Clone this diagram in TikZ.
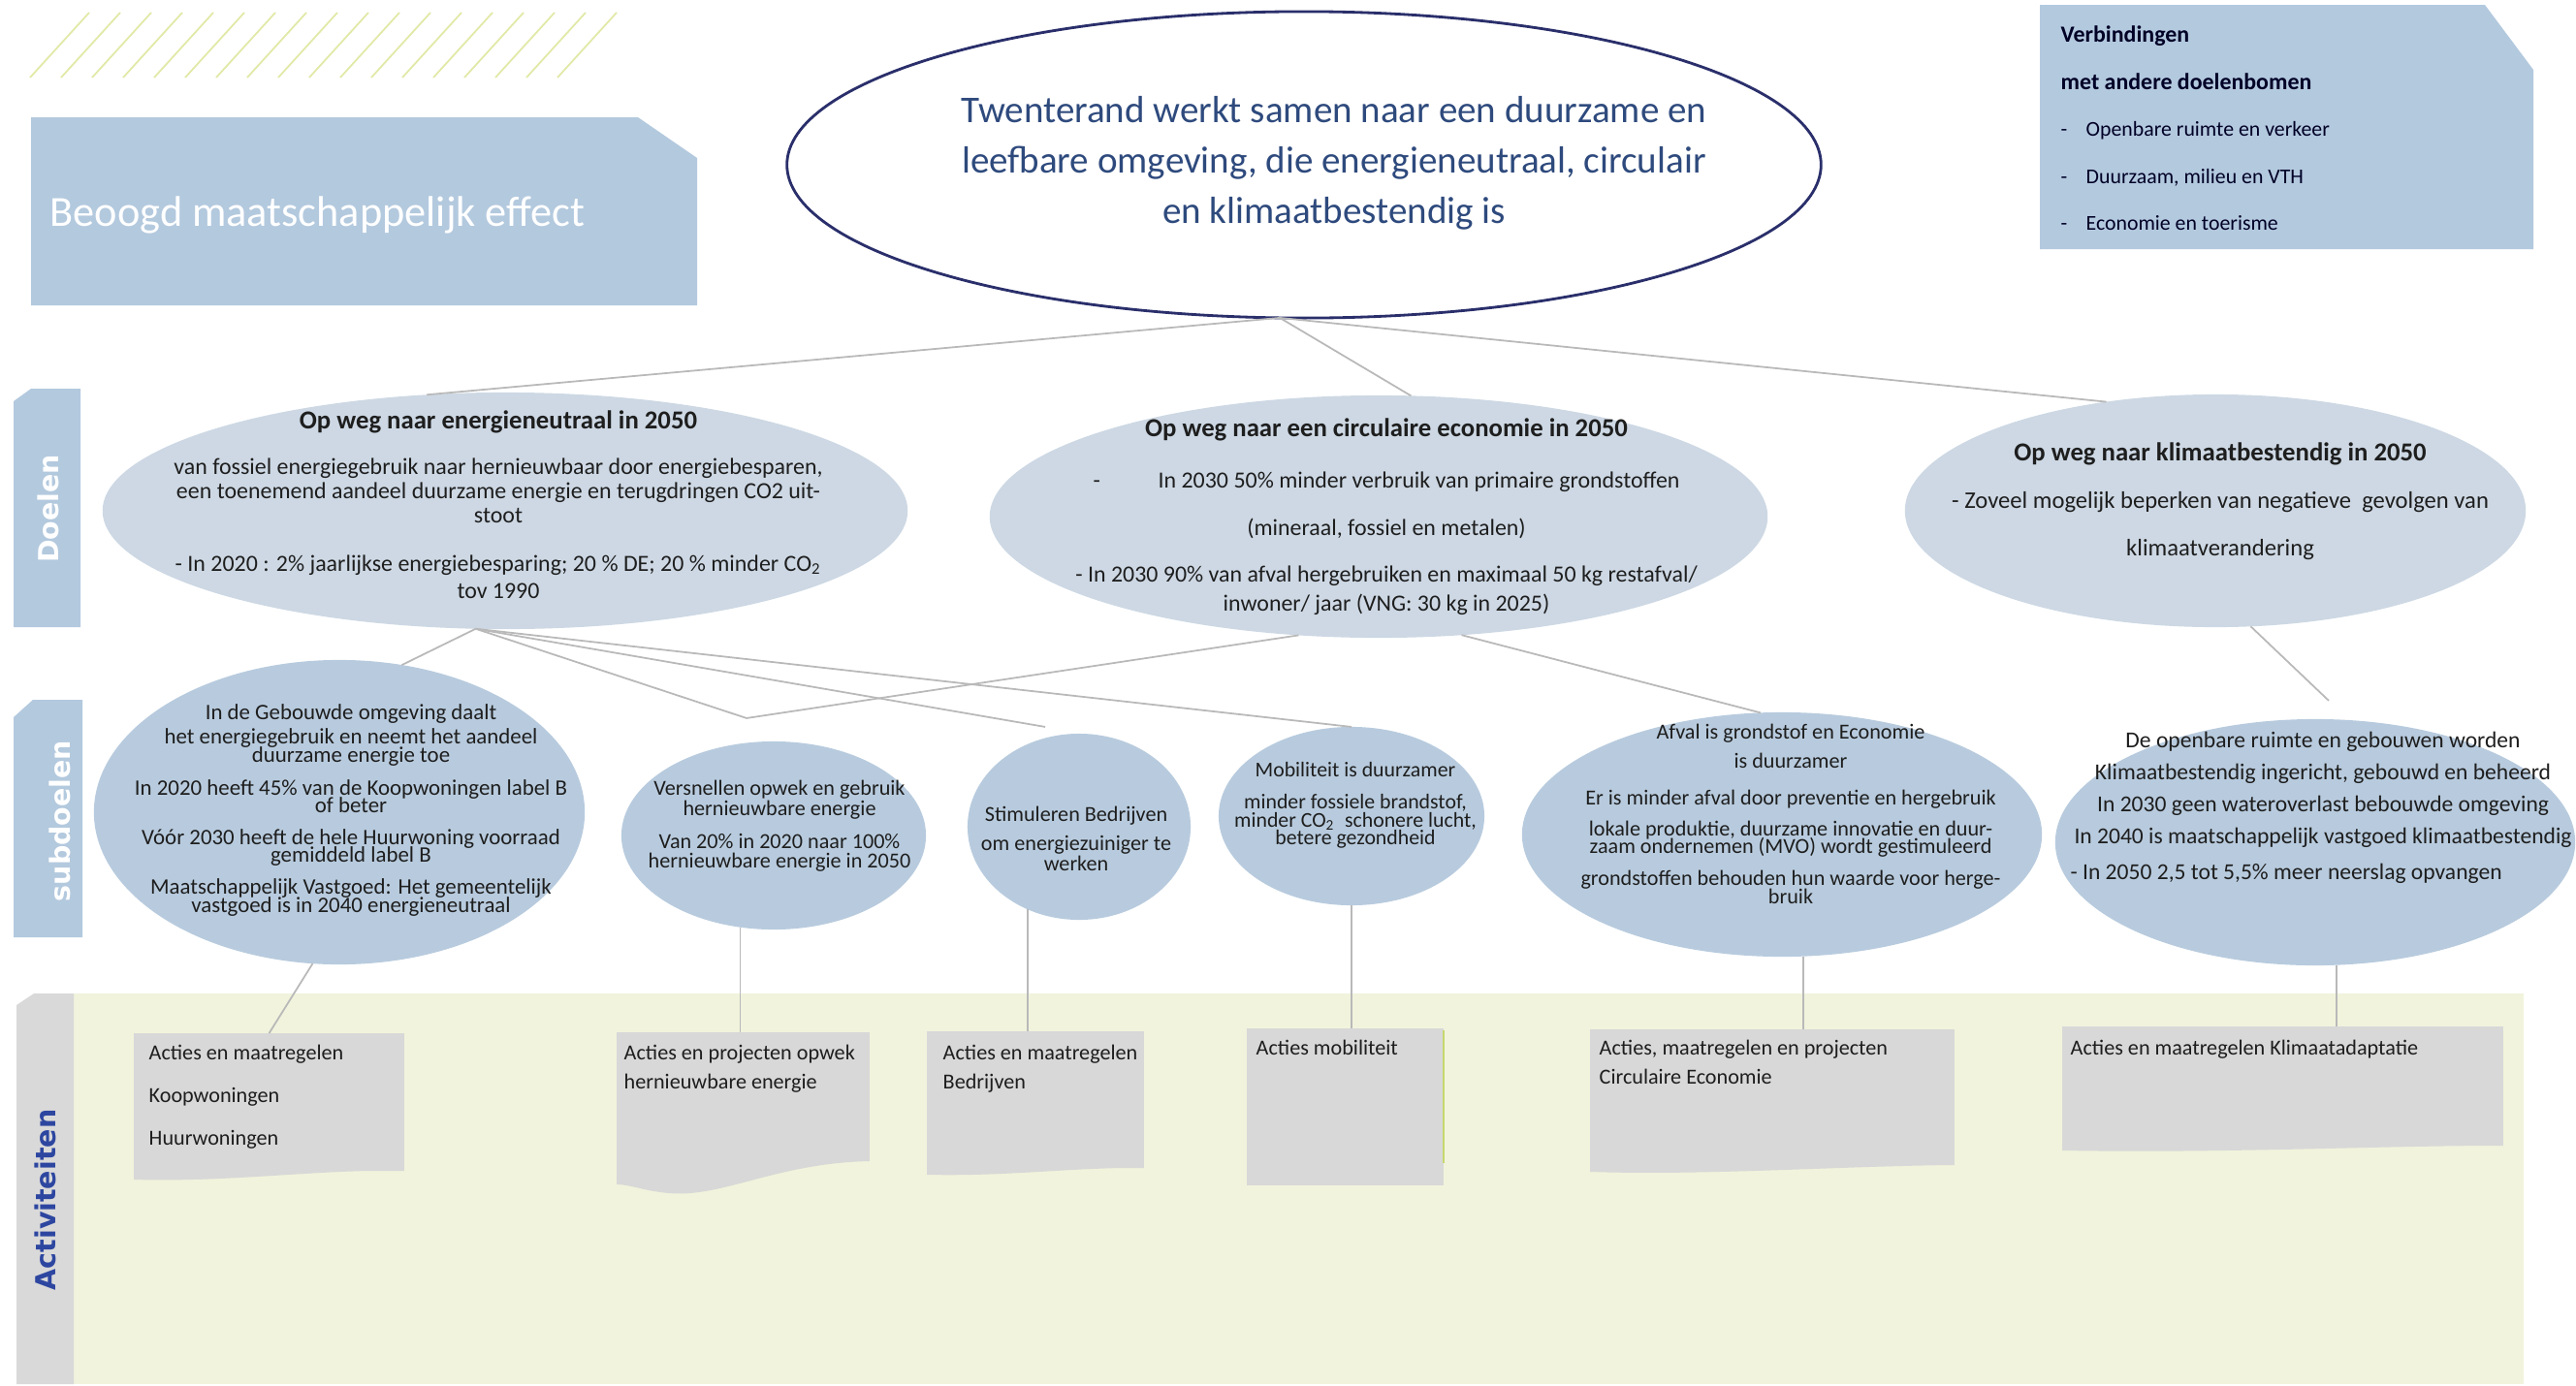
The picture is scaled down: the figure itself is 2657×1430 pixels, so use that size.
\documentclass[tikz,border=0pt]{standalone}
\usepackage{fontspec}
\setmainfont{Carlito}
\newfontfamily\tabfont{DejaVu Sans}
\usetikzlibrary{shapes.geometric}
\definecolor{boxblue}{HTML}{B3C9DE}
\definecolor{goalfill}{HTML}{CDD8E4}
\definecolor{subfill}{HTML}{B8CBDE}
\definecolor{actfill}{HTML}{D8D8D8}
\definecolor{bandfill}{HTML}{F1F3DC}
\definecolor{tabgray}{HTML}{D9D9D9}
\definecolor{hatchgreen}{HTML}{E2E9A6}
\definecolor{linkgray}{HTML}{B9B9B9}
\definecolor{navy}{HTML}{2A2F6B}
\definecolor{titleblue}{HTML}{2E4A7D}
\definecolor{tabtext}{HTML}{2D46A0}
\definecolor{ink}{HTML}{1E1E1E}
\definecolor{limeedge}{HTML}{C5D86E}
\setlength{\lineskiplimit}{-20pt}
\tikzset{
  goalel/.style={ellipse, fill=goalfill, inner sep=0, outer sep=0},
  subel/.style={ellipse, fill=subfill, inner sep=0, outer sep=0},
  actbox/.style={rectangle, fill=actfill, anchor=north west, inner sep=0, outer sep=0},
  link/.style={draw=linkgray, line width=0.5pt},
  txt/.style={inner sep=0, align=center, text=ink},
  acttxt/.style={inner sep=0, anchor=north west, align=left, text=ink},
  tablabel/.style={rotate=90, inner sep=0, font=\tabfont\bfseries\fontsize{8.1}{10}\selectfont}
}
\newcommand{\ttl}[1]{{\bfseries\fontsize{7.6}{7.6}\selectfont #1}}

\begin{document}
\begin{tikzpicture}[x=0.01cm,y=-0.01cm]
\useasboundingbox (0,0) rectangle (2657,1430);
\fill[white] (0,0) rectangle (2657,1430);

\foreach \k in {0,...,17}
  \draw[hatchgreen, line width=0.5pt] ({31+32*\k},80) -- ({92+32*\k},13);

\fill[boxblue] (32,121) -- (658,121) -- (719,163) -- (719,315) -- (32,315) -- cycle;
\node[anchor=base west, inner sep=0, text=white, font=\fontsize{12.6}{14}\selectfont] (effect) at (51,233) {Beoogd maatschappelijk effect};

\fill[boxblue] (2104,5) -- (2563,5) -- (2613,72) -- (2613,257) -- (2104,257) -- cycle;
\node[acttxt, text=black!85!blue, font=\fontsize{6.2}{13.8}\selectfont] (verb) at (2125,26)
  {{\bfseries\fontsize{6.8}{6.8}\selectfont Verbindingen}\\
   {\bfseries\fontsize{6.8}{6.8}\selectfont met andere doelenbomen}\\
   -\hspace{5.5pt}Openbare ruimte en verkeer\\
   -\hspace{5.5pt}Duurzaam, milieu en VTH\\
   -\hspace{5.5pt}Economie en toerisme};

\fill[bandfill] (76,1025) rectangle (2603,1428);
\fill[boxblue] (14,414) -- (32,401) -- (83,401) -- (83,647) -- (14,647) -- cycle;
\fill[boxblue] (14,740) -- (34,722) -- (85,722) -- (85,967) -- (14,967) -- cycle;
\fill[tabgray] (17,1037) -- (35,1025) -- (76,1025) -- (76,1428) -- (17,1428) -- cycle;
\node[tablabel, text=white] (doelen) at (50,525) {Doelen};
\node[tablabel, text=white] (subdoelen) at (62,847) {subdoelen};
\node[tablabel, text=tabtext] (activiteiten) at (47,1238) {Activiteiten};

\node[ellipse, fill=white, draw=navy, line width=0.8pt, inner sep=0, outer sep=0,
  minimum width=10.66cm, minimum height=3.16cm] (goal) at (1345,170) {};
\node[txt, text=titleblue, font=\fontsize{11.1}{14.8}\selectfont] (goalt) at (1376,168)
  {Twenterand werkt samen naar een duurzame en\\
   leefbare omgeving, die energieneutraal, circulair\\
   en klimaatbestendig is};

\node[goalel, minimum width=8.30cm, minimum height=2.44cm] (e1) at (521,527) {};
\node[goalel, minimum width=8.02cm, minimum height=2.50cm] (e2) at (1422,533) {};
\node[goalel, minimum width=6.40cm, minimum height=2.40cm] (e3) at (2285,527) {};

\node[txt, font=\fontsize{6.8}{7.1}\selectfont] (e1t) at (514,521)
  {\ttl{Op weg naar energieneutraal in 2050}\\[6.3pt]
   van fossiel energiegebruik naar hernieuwbaar door energiebesparen,\\
   een toenemend aandeel duurzame energie en terugdringen CO2 uit-\\
   stoot\\[7pt]
   - In 2020 : 2\% jaarlijkse energiebesparing; 20 \% DE; 20 \% minder CO\textsubscript{2}\\[1pt]
   tov 1990};
\node[txt, font=\fontsize{6.8}{7.6}\selectfont] (e2t) at (1430,533)
  {\ttl{Op weg naar een circulaire economie in 2050}\\[7.5pt]
   -\hspace{17pt}In 2030 50\% minder verbruik van primaire grondstoffen\\[6.3pt]
   (mineraal, fossiel en metalen)\\[6.1pt]
   - In 2030 90\% van afval hergebruiken en maximaal 50 kg restafval/\\[0.9pt]
   inwoner/ jaar (VNG: 30 kg in 2025)};
\node[txt, font=\fontsize{7}{13.9}\selectfont] (e3t) at (2290,517)
  {\ttl{Op weg naar klimaatbestendig in 2050}\\
   - Zoveel mogelijk beperken van negatieve\ \ gevolgen van\\
   klimaatverandering};

\node[subel, minimum width=5.06cm, minimum height=3.14cm] (s1) at (350,838) {};
\node[subel, minimum width=3.14cm, minimum height=1.94cm] (s2) at (798,862) {};
\node[subel, minimum width=2.30cm, minimum height=1.92cm] (s3) at (1113,853) {};
\node[subel, minimum width=2.74cm, minimum height=1.84cm] (s4) at (1394,842) {};
\node[subel, minimum width=5.36cm, minimum height=2.52cm] (s5) at (1838,861) {};
\node[subel, minimum width=5.36cm, minimum height=2.54cm] (s6) at (2388,869) {};

\node[txt, font=\fontsize{6.5}{5.2}\selectfont] (s1t) at (362,836)
  {In de Gebouwde omgeving daalt\\[1.9pt]
   het energiegebruik en neemt het aandeel\\
   duurzame energie toe\\[4.5pt]
   In 2020 heeft 45\% van de Koopwoningen label B\\
   of beter\\[4.2pt]
   Vóór 2030 heeft de hele Huurwoning voorraad\\
   gemiddeld label B\\[4.2pt]
   Maatschappelijk Vastgoed: Het gemeentelijk\\
   vastgoed is in 2040 energieneutraal};
\node[txt, font=\fontsize{6.3}{5.6}\selectfont] (s2t) at (804,852)
  {Versnellen opwek en gebruik\\[0.4pt]
   hernieuwbare energie\\[4.1pt]
   Van 20\% in 2020 naar 100\%\\
   hernieuwbare energie in 2050};
\node[txt, font=\fontsize{6.3}{6}\selectfont] (s3t) at (1110,865)
  {Stimuleren Bedrijven\\[2.5pt]
   om energiezuiniger te\\
   werken};
\node[txt, font=\fontsize{6.2}{5.3}\selectfont] (s4t) at (1398,831)
  {Mobiliteit is duurzamer\\[4.1pt]
   minder fossiele brandstof,\\
   minder CO\textsubscript{2}\ \ schonere lucht,\\
   betere gezondheid};
\node[txt, font=\fontsize{6.3}{5.3}\selectfont] (s5t) at (1847,840)
  {Afval is grondstof en Economie\\[3pt]
   is duurzamer\\[5.5pt]
   Er is minder afval door preventie en hergebruik\\[3.8pt]
   lokale produktie, duurzame innovatie en duur-\\
   zaam ondernemen (MVO) wordt gestimuleerd\\[4.1pt]
   grondstoffen behouden hun waarde voor herge-\\
   bruik};
\node[txt, font=\fontsize{6.7}{9.4}\selectfont] (s6t) at (2396,833)
  {De openbare ruimte en gebouwen worden\\
   Klimaatbestendig ingericht, gebouwd en beheerd\\
   In 2030 geen wateroverlast bebouwde omgeving\\
   In 2040 is maatschappelijk vastgoed klimaatbestendig\\[1.1pt]
   - In 2050 2,5 tot 5,5\% meer neerslag opvangen\hspace*{21.6pt}};

\node[actbox, minimum width=2.79cm, minimum height=1.42cm] (a1) at (138,1066) {};
\fill[actfill] (417,1208) .. controls (330,1206) and (240,1220) .. (138,1217) -- (138,1208) -- cycle;
\node[actbox, minimum width=2.61cm, minimum height=1.33cm] (a2) at (636,1065) {};
\fill[actfill] (897,1198) .. controls (800,1200) and (745,1236) .. (690,1231) .. controls (665,1229) and (650,1222) .. (636,1222) -- (636,1198) -- cycle;
\node[actbox, minimum width=2.24cm, minimum height=1.41cm] (a3) at (956,1064) {};
\fill[actfill] (1180,1205) .. controls (1110,1204) and (1040,1214) .. (956,1212) -- (956,1205) -- cycle;
\node[actbox, minimum width=2.03cm, minimum height=1.62cm] (a4) at (1286,1061) {};
\draw[limeedge, line width=0.6pt] ([yshift=-0.6pt]a4.north east) -- ([yshift=6.5pt]a4.south east);
\node[actbox, minimum width=3.76cm, minimum height=1.40cm] (a5) at (1640,1062) {};
\fill[actfill] (2016,1202) .. controls (1900,1203) and (1760,1213) .. (1640,1209) -- (1640,1202) -- cycle;
\node[actbox, minimum width=4.55cm, minimum height=1.23cm] (a6) at (2127,1059) {};
\fill[actfill] (2582,1182) .. controls (2450,1182) and (2300,1190) .. (2127,1187) -- (2127,1182) -- cycle;

\node[acttxt, font=\fontsize{6.3}{12.6}\selectfont] (a1t) at (153,1077)
  {Acties en maatregelen\\Koopwoningen\\Huurwoningen};
\node[acttxt, font=\fontsize{6.3}{8.6}\selectfont] (a2t) at (643,1077)
  {Acties en projecten opwek\\hernieuwbare energie};
\node[acttxt, font=\fontsize{6.3}{8.6}\selectfont] (a3t) at (972,1077)
  {Acties en maatregelen\\Bedrijven};
\node[acttxt, font=\fontsize{6.3}{8.6}\selectfont] (a4t) at (1295,1072)
  {Acties mobiliteit};
\node[acttxt, font=\fontsize{6.3}{8.6}\selectfont] (a5t) at (1649,1072)
  {Acties, maatregelen en projecten\\Circulaire Economie};
\node[acttxt, font=\fontsize{6.3}{8.6}\selectfont] (a6t) at (2135,1072)
  {Acties en maatregelen Klimaatadaptatie};

\draw[link] (goal.261) -- (e1.124);
\draw[link] (goal.261) -- (e2.75);
\draw[link] (goal.261) -- (e3.135);
\draw[link] (e1.256) -- (s1.67);
\draw[link] (e1.256) -- ([shift={(-28,-24)}]s2.north);
\draw[link] (e2.236) -- ([shift={(-28,-24)}]s2.north);
\draw[link] (e1.256) -- ([shift={(-35,-7)}]s3.north);
\draw[link] (e1.256) -- (s4.north);
\draw[link] (e2.305) -- (s5.100);
\draw[link] (e3.287) -- ([shift={(14,-19)}]s6.north);
\draw[link] (s1.260) -- (a1.north);
\draw[link] (s2.250) -- (s2.250 |- a2.north);
\draw[link] (s3.238) -- (s3.238 |- a3.north);
\draw[link] (s4.south) -- (s4.south |- a4.north);
\draw[link] (s5.280) -- (s5.280 |- a5.north);
\draw[link] (s6.280) -- (s6.280 |- a6.north);
\end{tikzpicture}
\end{document}
